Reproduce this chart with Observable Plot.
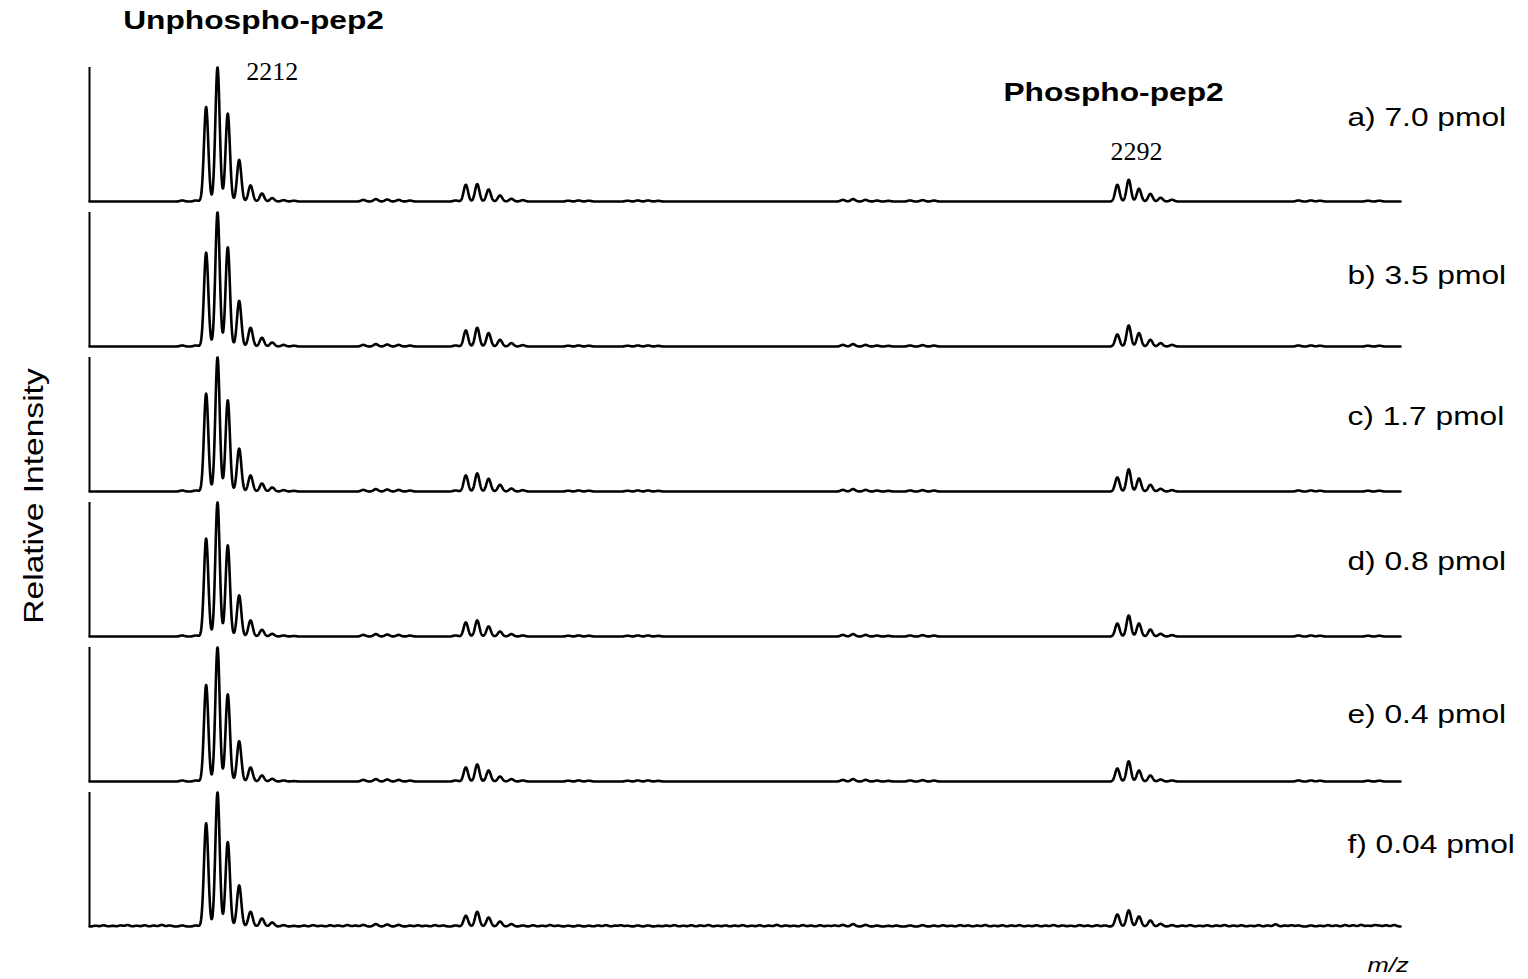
<!DOCTYPE html>
<html><head><meta charset="utf-8">
<script src="https://cdn.jsdelivr.net/npm/d3@7"></script>
<script src="https://cdn.jsdelivr.net/npm/@observablehq/plot@0.6"></script>
<style>body{margin:0;background:#fff}</style>
</head><body><div id="chart"></div>
<script>
// ---- data ----
const panels = ["a) 7.0 pmol", "b) 3.5 pmol", "c) 1.7 pmol", "d) 0.8 pmol", "e) 0.4 pmol", "f) 0.04 pmol"];

// unphosphorylated peptide isotope cluster (m/z) and relative intensities per panel
const unphosMz = [2211.0, 2212.0, 2212.9, 2213.9, 2214.9, 2215.9, 2216.8, 2217.8, 2218.7];
const unphosI = [
  [70.5, 100, 65.5, 31, 12, 6, 2.5, 1, 0.6],
  [70, 100, 74, 34, 14, 6.5, 3, 1.2, 0.6],
  [73, 100, 68, 32, 12, 6, 3, 1, 0.5],
  [73, 100, 68, 30.6, 12, 5, 2, 0.8, 0.4],
  [72, 100, 65, 30, 10.5, 4.5, 2, 0.8, 0.3],
  [77, 100, 63, 30.6, 11, 6, 3, 1, 0.5]
];
// sodium adduct cluster
const adductMz = [2232.9, 2233.8, 2234.8, 2235.8, 2236.8, 2237.8, 2238.8];
const adductI = [
  [0.8, 12.5, 13, 9, 4.5, 2, 1],
  [0.8, 12, 14, 10, 5, 2.5, 1],
  [0.8, 12, 13.5, 9.5, 5, 2.2, 1],
  [0.8, 10.5, 12, 7.5, 3.7, 1.8, 0.8],
  [0.8, 10.5, 12.7, 8.2, 3.7, 1.8, 0.8],
  [0.8, 8, 11, 6.7, 3.7, 1.8, 0.8]
];
// phosphorylated peptide isotope cluster
const phosMz = [2291.0, 2292.0, 2292.9, 2293.9, 2294.8, 2295.8];
const phosI = [
  [12.5, 16.2, 9.5, 5.7, 2.8, 1.3],
  [9, 15.7, 10, 5, 2.5, 1.2],
  [10.5, 16.5, 9.7, 5, 2, 1],
  [9.7, 15.7, 9.7, 5.2, 2, 1],
  [9.7, 15, 8.2, 4.5, 1.5, 0.8],
  [9, 12, 7.5, 4.5, 2, 1]
];
// minor peaks common to all spectra
const minorMz = [2208.9, 2210.1, 2224.8, 2225.9, 2226.9, 2227.9, 2228.9, 2242.8, 2243.7, 2244.6,
  2248.0, 2248.9, 2249.8, 2250.7, 2266.9, 2267.8, 2268.9, 2269.9, 2270.9, 2272.8, 2273.9, 2274.9,
  2306.9, 2308.0, 2308.8, 2313.0, 2314.0];
const minorI = [0.8, 0.8, 1.2, 1.8, 1.5, 1.2, 0.7, 0.6, 0.8, 0.6,
  0.6, 0.8, 0.8, 0.5, 1.2, 1.8, 1.2, 0.7, 0.5, 0.8, 1.0, 0.7,
  0.8, 0.8, 0.6, 0.6, 0.6];
// baseline noise of the lowest-load spectrum (f) — small bumps along the baseline
const noiseMzF = [2201.3, 2202.0, 2202.8, 2203.5, 2204.1, 2204.9, 2205.6, 2206.4, 2207.1, 2207.8,
  2219.6, 2220.4, 2221.1, 2221.9, 2222.6, 2223.4, 2224.1, 2229.6, 2230.3, 2231.1, 2231.8,
  2239.7, 2240.5, 2241.2, 2241.9, 2245.4, 2246.1, 2246.9, 2247.4, 2251.4, 2252.1, 2252.9, 2253.6,
  2254.4, 2255.1, 2255.9, 2256.6, 2257.4, 2258.1, 2258.9, 2259.6, 2260.4, 2261.1, 2261.9, 2262.6,
  2263.4, 2264.1, 2264.9, 2265.6, 2266.2, 2271.6, 2275.7, 2276.4, 2277.2, 2277.9, 2278.7, 2279.4,
  2280.2, 2280.9, 2281.7, 2282.4, 2283.2, 2283.9, 2284.7, 2285.4, 2286.2, 2286.9, 2287.7, 2288.4,
  2289.2, 2289.9, 2296.7, 2297.4, 2298.2, 2298.9, 2299.7, 2300.4, 2301.2, 2301.9, 2302.7, 2303.4,
  2304.2, 2304.9, 2305.7, 2306.3, 2309.5, 2310.2, 2311.0, 2311.7, 2312.4, 2313.6, 2314.6, 2315.3];
const noiseIF = [0.6, 0.9, 0.5, 0.8, 1.1, 0.6, 0.9, 0.7, 1.2, 0.8,
  0.7, 1.0, 0.6, 0.9, 0.8, 1.1, 0.7, 0.9, 0.6, 1.0, 0.8,
  0.9, 0.6, 1.1, 0.7, 0.8, 1.0, 0.6, 0.9, 0.7, 1.0, 0.6, 0.9,
  0.8, 1.1, 0.6, 0.8, 0.7, 1.0, 0.6, 0.9, 0.7, 1.2, 0.8, 0.6,
  1.0, 0.7, 0.9, 0.6, 0.8, 0.7, 0.9, 0.6, 1.0, 0.8, 0.7, 1.1,
  0.6, 0.9, 0.8, 1.0, 0.6, 0.9, 0.7, 1.1, 0.8, 0.6, 1.0, 0.7,
  0.9, 0.8, 0.7, 1.0, 0.6, 0.9, 0.8, 1.1, 0.7, 0.9, 0.6, 1.0,
  0.8, 1.6, 0.7, 0.9, 1.0, 0.8, 1.1, 0.9, 1.2, 1.0, 0.9, 1.1];

const peakLabels = ["2212", "2292"];
const titles = ["Unphospho-pep2", "Phospho-pep2"];
const mzRange = [2200.76, 2315.86];

// ---- build profile (peaks rendered with a fixed instrument peak width) ----
const sigma = 0.19;
const rows = [];
panels.forEach((p, k) => {
  const peaks = [];
  unphosMz.forEach((m, j) => peaks.push([m, unphosI[k][j]]));
  adductMz.forEach((m, j) => peaks.push([m, adductI[k][j]]));
  phosMz.forEach((m, j) => peaks.push([m, phosI[k][j]]));
  minorMz.forEach((m, j) => peaks.push([m, minorI[j]]));
  if (k === panels.length - 1) noiseMzF.forEach((m, j) => peaks.push([m, noiseIF[j]]));
  const step = 0.02;
  const n = Math.round((mzRange[1] - mzRange[0]) / step);
  for (let s = 0; s <= n; s++) {
    const x = mzRange[0] + s * step;
    let y = 0;
    for (const [m, h] of peaks) {
      const d = x - m;
      if (Math.abs(d) < 6 * sigma) y += h * Math.exp(-d * d / (2 * sigma * sigma));
    }
    rows.push({panel: p, mz: x, i: y});
  }
});

const labelRows = panels.map(p => ({panel: p}));
const sans = "Liberation Sans, Arial, Helvetica, sans-serif";
const serif = "Liberation Serif, Times New Roman, serif";

const plot = Plot.plot({
  width: 1528,
  height: 979,
  marginLeft: 89,
  marginRight: 128,
  marginTop: 67,
  marginBottom: 53,
  x: {domain: mzRange, axis: null},
  y: {domain: [0, 100], axis: null},
  fy: {domain: panels, axis: null, paddingInner: 0.076, paddingOuter: 0},
  style: {background: "white"},
  marks: [
    Plot.ruleX([mzRange[0]], {y1: 0, y2: 100, stroke: "black", strokeWidth: 2}),
    Plot.line(rows, {x: "mz", y: "i", fy: "panel", stroke: "black", strokeWidth: 2.6}),
    Plot.text(labelRows, {fy: "panel", x: () => 2311.2, y: [56.7, 46.3, 49.3, 49.3, 44, 55.2], text: "panel",
      textAnchor: "start", lineAnchor: "bottom", fontSize: 26, fontFamily: sans, fill: "black", className: "wide"}),
    Plot.text(peakLabels, {fy: () => panels[0], x: [2214.52, 2290.4], y: [91, 30.6], text: d => d,
      textAnchor: "start", lineAnchor: "bottom", fontSize: 26, fontFamily: serif, fill: "black"}),
    Plot.text(titles, {fy: () => panels[0], x: [2203.72, 2281.0], y: [129.1, 75],
      text: d => d, textAnchor: "start", lineAnchor: "bottom", fontSize: 26, fontWeight: "bold", fontFamily: sans, fill: "black", className: "wide"}),
    Plot.text(["m/z"], {fy: () => panels[5], x: () => 2312.97, y: () => -34.3, text: d => d,
      textAnchor: "start", lineAnchor: "bottom", fontSize: 21, fontStyle: "italic", fontFamily: sans, fill: "black", className: "wide"})
  ]
});
document.getElementById("chart").appendChild(plot);

const svg = d3.select(plot);
// y-axis title
svg.append("text")
  .attr("class", "wide")
  .attr("transform", "translate(43,496) rotate(-90)")
  .attr("text-anchor", "middle")
  .attr("font-family", sans)
  .attr("font-size", 27.5)
  .attr("fill", "black")
  .text("Relative Intensity");

// the reference's sans-serif lettering is set wide: stretch glyphs along the text direction
svg.selectAll(".wide text, text.wide").each(function () {
  const t = this.getAttribute("transform") || "";
  this.setAttribute("transform", t + " scale(1.22,1)");
});
</script></body></html>
